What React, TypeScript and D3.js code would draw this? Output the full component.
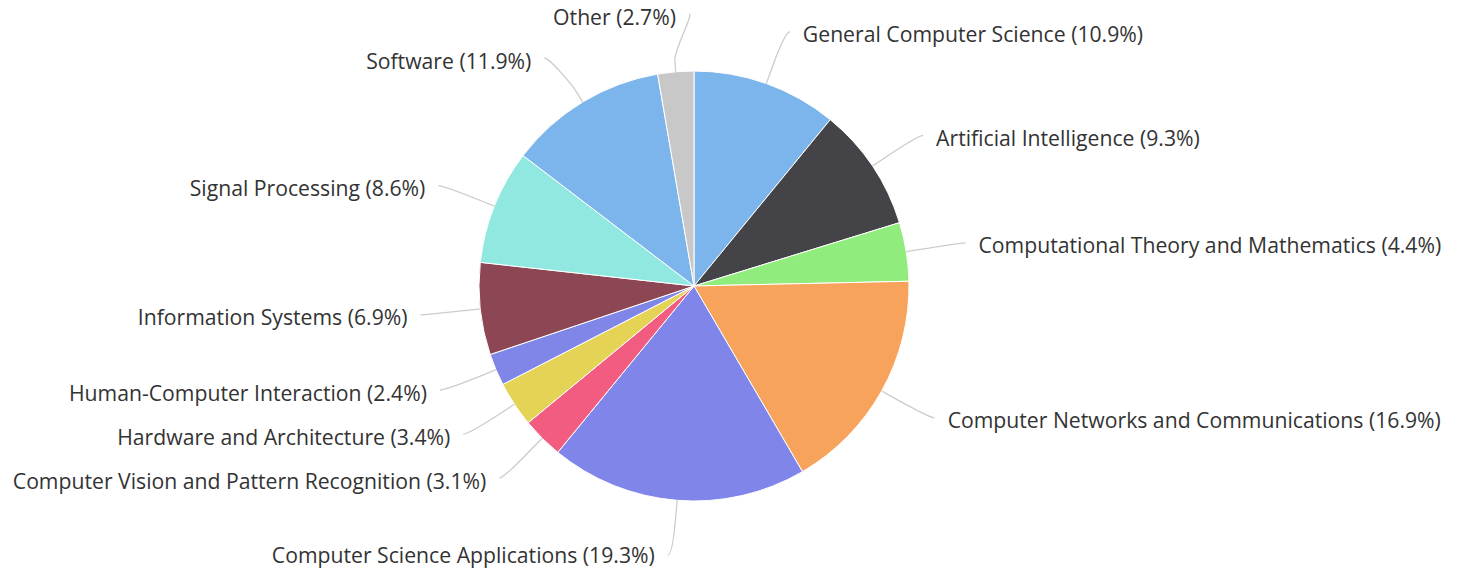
import React from 'react';
import * as d3 from 'd3';

const categories = [
  'General Computer Science',
  'Artificial Intelligence',
  'Computational Theory and Mathematics',
  'Computer Networks and Communications',
  'Computer Science Applications',
  'Computer Vision and Pattern Recognition',
  'Hardware and Architecture',
  'Human-Computer Interaction',
  'Information Systems',
  'Signal Processing',
  'Software',
  'Other',
];
const shares = [10.9, 9.3, 4.4, 16.9, 19.3, 3.1, 3.4, 2.4, 6.9, 8.6, 11.9, 2.7];
const colors = [
  '#7cb5ec', '#434348', '#90ed7d', '#f7a35c', '#8085e9', '#f15c80',
  '#e4d354', '#8085e8', '#8d4653', '#91e8e1', '#7cb5ec', '#c8c8c8',
];

const W = 1465;
const H = 570;
const CX = 694;
const CY = 286;
const R = 215;
const DIST = 55;
const LABEL_H = 44;
const CONN_OFF = 11;
const FONT = '"Open Sans", sans-serif';
const FONT_SIZE = 21.2;

type Lab = {
  i: number; a: number; left: boolean; target: number; y: number;
};

function distribute(items: Lab[], size: number) {
  let boxes = items.map((it) => ({ targets: [it.target], items: [it], size, pos: 0 }));
  let overlapping = true;
  let guard = 0;
  while (overlapping && guard++ < 100) {
    boxes.forEach((b) => {
      const t = (Math.min(...b.targets) + Math.max(...b.targets)) / 2;
      b.pos = t - b.size / 2;
    });
    overlapping = false;
    for (let k = boxes.length - 1; k > 0; k--) {
      const p = boxes[k - 1];
      const c = boxes[k];
      if (p.pos + p.size > c.pos) {
        p.size += c.size;
        p.targets = p.targets.concat(c.targets);
        p.items = p.items.concat(c.items);
        boxes.splice(k, 1);
        overlapping = true;
      }
    }
  }
  boxes.forEach((b) => {
    let off = 0;
    b.items.forEach((it) => {
      it.y = b.pos + off + size / 2;
      off += size;
    });
  });
}

export default function App() {
  const pie = d3.pie<number>().sort(null).value((d) => d)(shares);
  const arc = d3.arc<d3.PieArcDatum<number>>().innerRadius(0).outerRadius(R);
  const RL = R + DIST;

  const labs: Lab[] = pie.map((p, i) => {
    const a = (p.startAngle + p.endAngle) / 2;
    return { i, a, left: Math.sin(a) < 0, target: CY - RL * Math.cos(a), y: 0 };
  });
  const leftL = labs.filter((l) => l.left).sort((a, b) => a.target - b.target);
  const rightL = labs.filter((l) => !l.left).sort((a, b) => a.target - b.target);
  distribute(leftL, LABEL_H);
  distribute(rightL, LABEL_H);

  const getX = (y: number, left: boolean) => {
    const dy = Math.max(-RL, Math.min(RL, y - CY));
    return CX + (left ? -1 : 1) * Math.sqrt(RL * RL - dy * dy);
  };

  return (
    <svg width={W} height={H} style={{ position: 'absolute', left: 0, top: 0, background: '#fff' }}>
      <g transform={`translate(${CX},${CY})`}>
        {pie.map((p, i) => (
          <path key={i} d={arc(p) || ''} fill={colors[i]} stroke="#ffffff" strokeWidth={1} strokeLinejoin="round" />
        ))}
      </g>
      {labs.map((l) => {
        const x = getX(l.y, l.left);
        const s = l.left ? -1 : 1;
        const sa = Math.sin(l.a);
        const ca = -Math.cos(l.a);
        const p4x = CX + R * sa;
        const p4y = CY + R * ca;
        const p2x = CX + (R + CONN_OFF) * sa;
        const p2y = CY + (R + CONN_OFF) * ca;
        const path = `M${x + s * 5},${l.y}C${x},${l.y} ${2 * p2x - p4x},${2 * p2y - p4y} ${p2x},${p2y}L${p4x},${p4y}`;
        return (
          <g key={l.i}>
            <path d={path} fill="none" stroke="#cccccc" strokeWidth={1.3} />
            <text
              x={x + s * 18}
              y={Math.min(l.y + 2, H - 16)}
              textAnchor={l.left ? 'end' : 'start'}
              dominantBaseline="central"
              fontFamily={FONT}
              fontSize={FONT_SIZE}
              fill="#333333"
            >
              {`${categories[l.i]} (${shares[l.i].toFixed(1)}%)`}
            </text>
          </g>
        );
      })}
    </svg>
  );
}
